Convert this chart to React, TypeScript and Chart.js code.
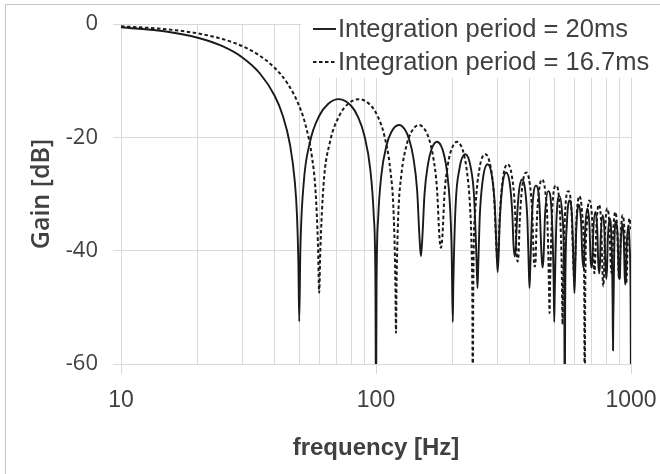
import React, { useEffect, useRef } from 'react';
import { Chart, registerables } from 'chart.js';

Chart.register(...registerables);

// [frequency Hz, gain dB] — integration period 20 ms (solid)
const PERIOD_20MS: [number, number][] = [
  [10, -0.58], [15, -1.33], [20, -2.42], [25, -3.92], [30, -5.94], [35, -8.69], [40, -12.62], [43, -16.05], [46, -21.31], [48, -27.63], [49, -33.81], [49.6, -41.87], [50, -52.5],
  [50.5, -40.09], [52, -28.32], [55, -20.97], [60, -16.15], [65, -14.06], [71.5, -13.26], [80, -14.47], [85, -16.39], [90, -19.67], [95, -25.72], [98, -33.83], [99.5, -45.98], [100, -70],
  [100.5, -46.07], [102, -34.18], [105, -26.59], [110, -21.41], [115, -19.02], [123, -17.83], [130, -18.68], [135, -20.41], [140, -23.51], [145, -29.39], [148, -37.41], [150, -41],
  [152, -37.64], [155, -29.97], [160, -24.67], [165, -22.15], [173.5, -20.79], [180, -21.51], [185, -23.15], [190, -26.16], [195, -31.96], [198, -39.94], [200, -52.6],
  [201, -46.07], [205, -32.4], [212.5, -25.52], [224, -22.99], [235, -25.23], [242.5, -30.52], [248, -41.89], [250, -46.6],
  [252, -42.03], [255, -34.29], [262.5, -27.36], [274, -24.74], [285, -26.9], [292.5, -32.15], [297, -39.97], [300, -43.8],
  [303, -40.14], [305, -35.85], [312.5, -28.87], [324, -26.2], [335, -28.3], [342.5, -33.52], [346, -38.84], [350, -41],
  [354, -39.03], [355, -37.17], [362.5, -30.16], [374, -27.44], [385, -29.51], [392.5, -34.7], [397, -42.49], [400, -46.6],
  [403, -42.62], [410, -32.84], [424, -28.53], [437.5, -31.79], [446, -41.04], [450, -43],
  [454, -41.19], [460, -33.84], [474, -29.5], [487.5, -32.73], [497, -44.44], [500, -52.6],
  [502, -48.02], [510, -34.74], [524, -30.37], [537.5, -33.58], [547, -45.27], [550, -70],
  [552, -48.84], [560, -35.55], [574, -31.16], [587.5, -34.35], [596, -43.56], [600, -47.5],
  [604, -43.67], [610, -36.29], [624, -31.89], [637.5, -35.06], [644, -40.82], [650, -43],
  [656, -40.98], [660, -36.97], [674, -32.56], [687.5, -35.72], [694, -41.47], [700, -43],
  [706, -41.62], [710, -37.61], [724, -33.18], [737.5, -36.33], [744, -42.08], [750, -44],
  [756, -42.21], [760, -38.2], [774, -33.76], [787.5, -36.9], [794, -42.64], [800, -45],
  [806, -42.77], [810, -38.75], [824, -34.3], [837.5, -37.43], [847, -49.07], [850, -57.6],
  [852, -52.61], [860, -39.27], [874, -34.81], [887.5, -37.94], [894, -43.67], [900, -45],
  [906, -43.79], [910, -39.76], [924, -35.3], [937.5, -38.41], [944, -44.14], [950, -46],
  [956, -44.25], [960, -40.23], [974, -35.75], [987.5, -38.86], [997, -50.49], [1000, -70],
];

// [frequency Hz, gain dB] — integration period 16.7 ms (dashed)
const PERIOD_16_7MS: [number, number][] = [
  [10, -0.4], [15, -0.92], [20, -1.66], [25, -2.65], [30, -3.94], [35, -5.59], [40, -7.71], [45, -10.51], [50, -14.48], [53, -17.92], [56, -23.25], [58, -29.8], [59.2, -38.82], [59.88, -47.4],
  [60.48, -40.09], [62.28, -28.32], [65.87, -20.97], [71.86, -16.15], [77.84, -14.06], [85.63, -13.26], [95.81, -14.47], [101.8, -16.39], [107.78, -19.67], [113.77, -25.72], [117.36, -33.83], [119.16, -45.98], [119.76, -54.5],
  [120.36, -46.07], [122.16, -34.18], [125.75, -26.59], [131.74, -21.41], [137.72, -19.02], [147.3, -17.83], [155.69, -18.68], [161.68, -20.41], [167.66, -23.51], [173.65, -29.39], [177.24, -37.41], [179.64, -39.5],
  [182.04, -37.64], [185.63, -29.97], [191.62, -24.67], [197.6, -22.15], [207.78, -20.79], [215.57, -21.51], [221.56, -23.15], [227.54, -26.16], [233.53, -31.96], [237.12, -39.94], [238.92, -52.02], [239.52, -70],
  [240.72, -46.07], [245.51, -32.4], [254.49, -25.52], [268.26, -22.99], [281.44, -25.23], [290.42, -30.52], [295.81, -38.37], [299.4, -42],
  [303, -38.58], [305.39, -34.29], [314.37, -27.36], [328.14, -24.74], [341.32, -26.9], [350.3, -32.15], [355.69, -39.97], [359.28, -41.9],
  [362.87, -40.14], [365.27, -35.85], [374.25, -28.87], [388.02, -26.2], [401.2, -28.3], [410.18, -33.52], [415.57, -41.32], [419.16, -42.8],
  [422.75, -41.47], [425.15, -37.17], [434.13, -30.16], [447.9, -27.44], [461.08, -29.51], [470.06, -34.7], [476.64, -46], [479.04, -51],
  [481.44, -46.09], [491.02, -32.84], [507.78, -28.53], [523.95, -31.79], [535.33, -43.52], [538.92, -53],
  [541.32, -47.11], [550.9, -33.84], [567.66, -29.5], [583.83, -32.73], [594.01, -41.96], [598.8, -45],
  [603.59, -42.1], [610.78, -34.74], [627.54, -30.37], [643.71, -33.58], [655.09, -45.27], [658.68, -70],
  [661.08, -48.84], [670.66, -35.55], [687.42, -31.16], [703.59, -34.35], [711.37, -40.12], [718.56, -44],
  [725.75, -40.29], [730.54, -36.29], [747.3, -31.89], [763.47, -35.06], [773.65, -44.26], [778.44, -46.3],
  [783.23, -44.37], [790.42, -36.97], [807.18, -32.56], [823.35, -35.72], [831.13, -41.47], [838.32, -44],
  [845.51, -41.62], [850.3, -37.61], [867.06, -33.18], [883.23, -36.33], [891.01, -42.08], [898.2, -45],
  [905.39, -42.21], [910.18, -38.2], [926.94, -33.76], [943.11, -36.9], [950.89, -42.64], [958.08, -45.7],
  [965.27, -42.77], [970.06, -38.75], [986.82, -34.3], [1000, -36.24],
];

const SERIES_NAMES = ['Integration period = 20ms', 'Integration period = 16.7ms'];
const X_GRID_VALUES = [10, 20, 30, 40, 50, 60, 70, 80, 90, 100, 200, 300, 400, 500, 600, 700, 800, 900, 1000];
const X_LABEL_VALUES = [10, 100, 1000];
const Y_TICK_VALUES = [-60, -40, -20, 0];
const X_TITLE = 'frequency [Hz]';
const Y_TITLE = 'Gain [dB]';

const TEXT = '#404040';
const GRID = '#d9d9d9';
const LINE = '#1a1a1a';
const ARIAL = '"Liberation Sans", Arial, sans-serif';
const OPEN = '"Open Sans", "Liberation Sans", sans-serif';
const DASH = [3.5, 2.5];

export default function App() {
  const ref = useRef<HTMLCanvasElement>(null);

  useEffect(() => {
    const canvas = ref.current;
    if (!canvas) return;

    const framePlugin = {
      id: 'frame',
      beforeDraw(chart: any) {
        const { ctx } = chart;
        ctx.save();
        ctx.strokeStyle = '#c4c4c4';
        ctx.lineWidth = 1;
        ctx.beginPath();
        ctx.moveTo(5.5, 474);
        ctx.lineTo(5.5, 4.5);
        ctx.lineTo(660, 4.5);
        ctx.stroke();
        ctx.restore();
      },
    };

    const legendPlugin = {
      id: 'innerLegend',
      afterDatasetsDraw(chart: any) {
        const { ctx } = chart;
        ctx.save();
        ctx.fillStyle = '#ffffff';
        ctx.fillRect(301.5, 6, 357, 72);
        const rows = [29, 62];
        SERIES_NAMES.forEach((name, i) => {
          const y = rows[i];
          ctx.strokeStyle = LINE;
          ctx.lineWidth = i === 0 ? 1.9 : 2;
          ctx.setLineDash(i === 0 ? [] : DASH);
          ctx.beginPath();
          ctx.moveTo(313, y);
          ctx.lineTo(336, y);
          ctx.stroke();
          ctx.setLineDash([]);
          ctx.fillStyle = TEXT;
          ctx.font = `25.5px ${ARIAL}`;
          ctx.textAlign = 'left';
          ctx.textBaseline = 'middle';
          ctx.fillText(name, 338, y + 1);
        });
        ctx.restore();
      },
    };

    const chart = new Chart(canvas, {
      type: 'line',
      data: {
        datasets: [
          {
            label: SERIES_NAMES[0],
            data: PERIOD_20MS.map(([x, y]) => ({ x, y })),
            borderColor: LINE,
            borderWidth: 1.9,
            pointRadius: 0,
            fill: false,
            cubicInterpolationMode: 'monotone',
          },
          {
            label: SERIES_NAMES[1],
            data: PERIOD_16_7MS.map(([x, y]) => ({ x, y })),
            borderColor: LINE,
            borderWidth: 2,
            borderDash: DASH,
            pointRadius: 0,
            fill: false,
            cubicInterpolationMode: 'monotone',
          },
        ],
      },
      options: {
        animation: false,
        responsive: true,
        maintainAspectRatio: false,
        layout: { padding: { top: 24, right: 29, bottom: 0, left: 0 } },
        plugins: {
          legend: { display: false },
          tooltip: { enabled: false },
        },
        scales: {
          x: {
            type: 'logarithmic',
            min: 10,
            max: 1000,
            afterBuildTicks: (scale: any) => {
              scale.ticks = X_GRID_VALUES.map((v) => ({ value: v, major: X_LABEL_VALUES.includes(v) }));
            },
            afterFit: (scale: any) => {
              scale.height = 110;
              scale.paddingLeft = 0;
              scale.paddingRight = 0;
            },
            ticks: {
              autoSkip: false,
              maxRotation: 0,
              minRotation: 0,
              padding: 13,
              color: TEXT,
              font: { family: ARIAL, size: 23 },
              callback: (value: any) => (X_LABEL_VALUES.includes(Math.round(Number(value))) ? String(Math.round(Number(value))) : ''),
            },
            grid: {
              color: GRID,
              lineWidth: 1,
              tickLength: 10,
              tickColor: (ctx: any) =>
                ctx.tick && X_LABEL_VALUES.includes(Math.round(ctx.tick.value)) ? GRID : 'rgba(0,0,0,0)',
            },
            border: { display: false },
            title: {
              display: true,
              text: X_TITLE,
              color: TEXT,
              font: { family: ARIAL, size: 24, weight: 'bold' },
              padding: { top: 0, bottom: 11.6 },
            },
          },
          y: {
            type: 'linear',
            min: -60,
            max: 0,
            afterBuildTicks: (scale: any) => {
              scale.ticks = Y_TICK_VALUES.map((v) => ({ value: v }));
            },
            afterFit: (scale: any) => {
              scale.width = 121;
              scale.paddingTop = 0;
              scale.paddingBottom = 0;
            },
            ticks: {
              padding: 15,
              color: TEXT,
              font: { family: OPEN, size: 22 },
              callback: (value: any) => String(value),
            },
            grid: { color: GRID, lineWidth: 1, tickLength: 8, tickColor: GRID },
            border: { display: false },
            title: {
              display: true,
              text: Y_TITLE,
              color: TEXT,
              font: { family: OPEN, size: 25, weight: 600 },
              padding: { top: 27, bottom: 0 },
            },
          },
        },
      },
      plugins: [framePlugin, legendPlugin],
    } as any);

    return () => chart.destroy();
  }, []);

  return (
    <div style={{ position: 'fixed', left: 0, top: 0, width: 660, height: 474, background: '#ffffff' }}>
      <canvas ref={ref} />
    </div>
  );
}
